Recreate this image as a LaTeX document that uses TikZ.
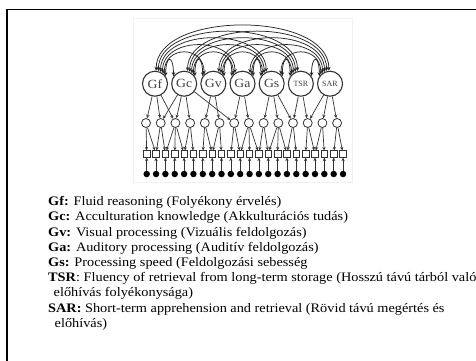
\documentclass[tikz,border=0pt]{standalone}
\usepackage{fontspec}
\setmainfont{Liberation Serif}
\newfontfamily\legfont{Liberation Serif}[FakeStretch=1.1]
\usetikzlibrary{arrows.meta}
\begin{document}
\begin{tikzpicture}[x=1pt,y=-1pt,
  fac/.style={circle, draw=black!80, line width=1.1pt, minimum size=25pt, inner sep=0pt, font=\legfont\fontsize{12.5}{12.5}\selectfont, text=black!75},
  fsmall/.style={fac, font=\fontsize{8}{8}\selectfont},
  sub/.style={circle, draw=black!80, line width=0.8pt, minimum size=9pt, inner sep=0pt},
  ind/.style={rectangle, draw=black!80, line width=0.7pt, minimum size=6.5pt, inner sep=0pt},
  err/.style={circle, fill=black, minimum size=6.5pt, inner sep=0pt},
  arr/.style={-{Stealth[length=3.5pt,width=3.2pt]}, draw=black!80, line width=0.7pt},
  cor/.style={{Stealth[length=4pt,width=3.5pt]}-{Stealth[length=4pt,width=3.5pt]}, draw=black!85, line width=0.75pt},
  leg/.style={anchor=base west, inner sep=0pt, font=\legfont\fontsize{13}{15}\selectfont}
]
\useasboundingbox (0,0) rectangle (476,360);
% faint image box
\draw[black!6] (133,18) rectangle (352,182);
% frame
\draw[line width=1.3pt] (7,400) -- (7,9.5) -- (500,9.5);
% factors
\foreach \n [count=\i from 0] in {Gf,Gc,Gv,Ga,Gs}
  \node[fac] (f\i) at ({155+29.17*\i},83.7) {\n};
\node[fsmall] (f5) at ({155+29.17*5},83.7) {TSR};
\node[fsmall] (f6) at ({155+29.17*6},83.7) {SAR};
% sub circles
\foreach \j in {0,...,13}
  \node[sub] (c\j) at ({146+14.7*\j},123) {};
% indicators and errors
\foreach \k in {0,...,21}{
  \node[ind] (s\k) at ({146.7+9.35*\k},154) {};
  \node[err] (e\k) at ({146.7+9.35*\k},174) {};
  \draw[arr] (e\k) -- (s\k);
}
% sub circle -> indicators
\foreach \j in {0,...,13}{
  \foreach \k in {0,...,21}{
    \pgfmathtruncatemacro\near{abs((146+14.7*\j)-(146.7+9.35*\k))<11 ? 1 : 0}
    \ifnum\near=1 \draw[arr] (c\j) -- (s\k); \fi
  }
}
% factor -> sub circles
\foreach \a/\b in {0/0,0/1,0/2,1/1,1/2,1/3,1/6,2/4,2/5,3/6,3/7,4/8,4/9,4/10,5/10,5/11,6/11,6/12,6/13}
  \draw[arr] (f\a) -- (c\b);
% correlations
\foreach \i in {0,...,5}{
  \pgfmathtruncatemacro\ia{\i+1}
  \foreach \j in {\ia,...,6}{
    \pgfmathtruncatemacro\d{\j-\i}
    \pgfmathsetmacro\h{14+7.7*\d}
    \pgfmathtruncatemacro\aa{25+10*\d}
    \pgfmathtruncatemacro\bb{155-10*\d}
    \draw[cor] (f\i.\aa) .. controls +(0,-\h) and +(0,-\h) .. (f\j.\bb);
  }
}
% legend
\node[leg] (l1) at (48,205.7) {\textbf{Gf:} Fluid reasoning (Folyékony érvelés)};
\node[leg] (l2) at (48,220.9) {\textbf{Gc:} Acculturation knowledge (Akkulturációs tudás)};
\node[leg] (l3) at (48,236.1) {\textbf{Gv:} Visual processing (Vizuális feldolgozás)};
\node[leg] (l4) at (48,251.3) {\textbf{Ga:} Auditory processing (Auditív feldolgozás)};
\node[leg] (l5) at (48,266.5) {\textbf{Gs:} Processing speed (Feldolgozási sebesség};
\node[leg] (l6) at (48,281.7) {\textbf{TSR}: Fluency of retrieval from long-term storage (Hosszú távú tárból való};
\node[leg] (l7) at (53.5,296.9) {előhívás folyékonysága)};
\node[leg] (l8) at (48,312.1) {\textbf{SAR:} Short-term apprehension and retrieval (Rövid távú megértés és};
\node[leg] (l9) at (54.5,327.3) {előhívás)};
\end{tikzpicture}
\end{document}
